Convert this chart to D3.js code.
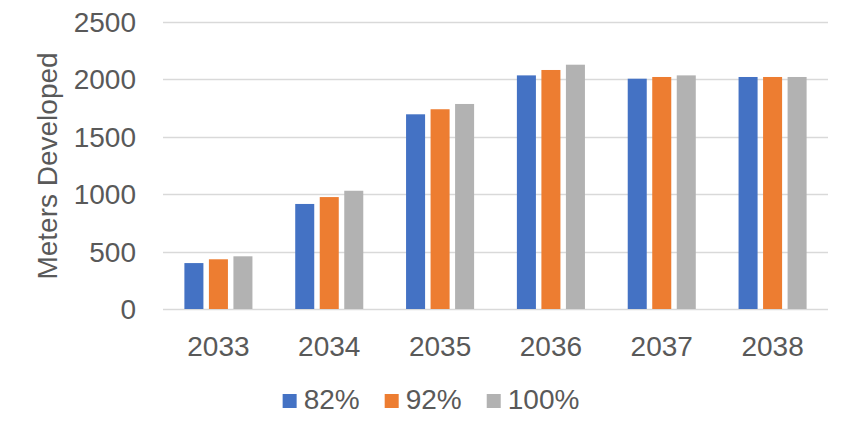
<!DOCTYPE html>
<html>
<head>
<meta charset="utf-8">
<script src="https://cdn.jsdelivr.net/npm/d3@7"></script>
<style>
  body { margin: 0; background: #fff; }
  text { font-family: "Liberation Sans", Arial, sans-serif; fill: #595959; }
</style>
</head>
<body>
<div id="chart"></div>
<script>
// chart values
const years = ['2033', '2034', '2035', '2036', '2037', '2038'];
const seriesNames = ['82%', '92%', '100%'];
const values82 = [400, 915, 1696, 2035, 2006, 2021];
const values92 = [433, 975, 1740, 2082, 2021, 2021];
const values100 = [459, 1030, 1786, 2128, 2035, 2021];
const yTicks = [0, 500, 1000, 1500, 2000, 2500];
const colors = ['#4472C4', '#ED7D31', '#B2B2B2'];

const allSeries = [values82, values92, values100];
const rows = years.map((yr, i) => ({
    year: yr,
    vals: seriesNames.map((s, j) => ({ name: s, value: allSeries[j][i] }))
}));

const width = 854, height = 436;
const plotLeft = 163, plotRight = 828, plotTop = 22, plotBottom = 309;

const svg = d3.select('#chart').append('svg')
    .attr('width', width)
    .attr('height', height);

const y = d3.scaleLinear().domain([0, 2500]).range([plotBottom, plotTop]);

const x0 = d3.scaleBand()
    .domain(years)
    .range([plotLeft, plotRight])
    .paddingInner(0.386)
    .paddingOuter(0.193);

const x1 = d3.scaleBand()
    .domain(seriesNames)
    .range([0, x0.bandwidth()])
    .paddingInner(0.224)
    .paddingOuter(0);

const color = d3.scaleOrdinal().domain(seriesNames).range(colors);

// gridlines
svg.append('g')
    .selectAll('line')
    .data(yTicks)
    .enter().append('line')
    .attr('x1', plotLeft)
    .attr('x2', plotRight)
    .attr('y1', d => Math.round(y(d)) + 0.5)
    .attr('y2', d => Math.round(y(d)) + 0.5)
    .attr('stroke', '#D9D9D9')
    .attr('stroke-width', 1.3);

// y tick labels
svg.append('g')
    .selectAll('text')
    .data(yTicks)
    .enter().append('text')
    .attr('x', 136)
    .attr('y', d => y(d))
    .attr('dy', '0.36em')
    .attr('text-anchor', 'end')
    .style('font-size', '28px')
    .text(d => d);

// bars
svg.append('g')
    .selectAll('g')
    .data(rows)
    .enter().append('g')
    .attr('transform', d => `translate(${x0(d.year)},0)`)
    .selectAll('rect')
    .data(d => d.vals)
    .enter().append('rect')
    .attr('x', d => x1(d.name))
    .attr('width', x1.bandwidth())
    .attr('y', d => y(d.value))
    .attr('height', d => y(0) - y(d.value))
    .attr('fill', d => color(d.name));

// x labels
svg.append('g')
    .selectAll('text')
    .data(years)
    .enter().append('text')
    .attr('x', d => x0(d) + x0.bandwidth() / 2)
    .attr('y', 356)
    .attr('text-anchor', 'middle')
    .style('font-size', '28px')
    .text(d => d);

// y axis title
svg.append('text')
    .attr('transform', 'translate(57,166) rotate(-90)')
    .attr('text-anchor', 'middle')
    .style('font-size', '28px')
    .text('Meters Developed');

// legend, centred on the page
const legend = svg.append('g');
let cx = 0;
seriesNames.forEach((s, i) => {
    const g = legend.append('g').attr('transform', `translate(${cx},0)`);
    g.append('rect')
        .attr('x', 0).attr('y', -15)
        .attr('width', 14).attr('height', 14)
        .attr('fill', colors[i]);
    const t = g.append('text')
        .attr('x', 21).attr('y', 0)
        .style('font-size', '28px')
        .text(s);
    cx += 21 + t.node().getComputedTextLength() + 25;
});
const legendWidth = cx - 25;
legend.attr('transform', `translate(${(width - legendWidth) / 2 + 4},409)`);
</script>
</body>
</html>
